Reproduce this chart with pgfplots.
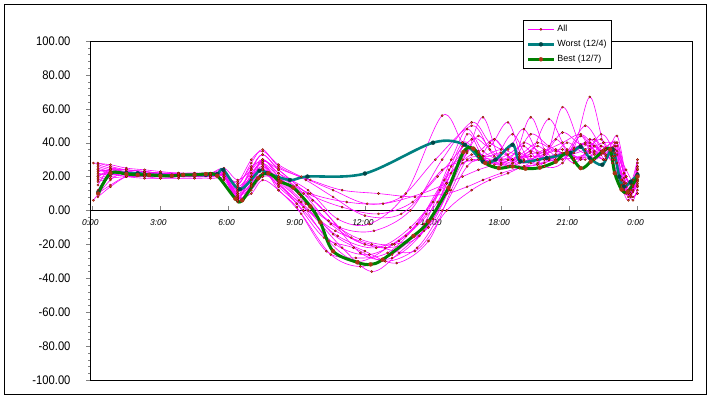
\documentclass[border=0pt]{standalone}
\usepackage{fontspec}
\setmainfont{Liberation Sans}
\newfontfamily\narrowfont[FakeStretch=0.9]{Liberation Sans}
\usepackage{pgfplots}
\pgfplotsset{compat=1.18}
\definecolor{mag}{RGB}{255,0,255}
\definecolor{magmark}{RGB}{225,85,40}
\definecolor{magmarkd}{RGB}{120,0,0}
\definecolor{worst}{RGB}{0,128,128}
\definecolor{worstm}{RGB}{0,70,70}
\definecolor{best}{RGB}{0,128,0}
\definecolor{bestm}{RGB}{170,50,20}
\pgfplotsset{
  allst/.style={color=mag, line width=0.6bp, smooth, tension=0.55, mark=*, mark size=1.1bp,
     mark options={fill=magmark, draw=magmarkd, line width=0.3bp}},
}
\begin{document}
\begin{tikzpicture}
\useasboundingbox (0,0) rectangle (711bp,398bp);
\draw[line width=0.8bp] (4bp,4bp) rectangle (706bp,394bp);
% zero axis with time labels
\begin{axis}[at={(90bp,18bp)}, anchor=south west, scale only axis,
  width=602bp, height=339bp, xmin=-0.1, xmax=26.4, ymin=-100, ymax=100,
  axis x line*=middle, axis y line=none,
  xtick={0,3,...,24}, xticklabels={0:00,3:00,6:00,9:00,12:00,15:00,18:00,21:00,0:00},
  tick align=inside, major tick length=4bp,
  x axis line style={line width=0.8bp},
  xticklabel style={font=\fontsize{8.5}{10}\selectfont\itshape, yshift=-6bp, xshift=-2bp},
  ]
\end{axis}
\begin{axis}[at={(90bp,18bp)}, anchor=south west, scale only axis,
  width=602bp, height=339bp, xmin=-0.1, xmax=26.4, ymin=-100, ymax=100,
  xtick=\empty, ytick={-100,-80,...,100}, minor y tick num=4, ytick pos=left,
  tick align=outside, major tick length=4bp, minor tick length=2bp,
  axis line style={line width=0.8bp},
  yticklabel style={font=\narrowfont\fontsize{12.5}{14}\selectfont, xshift=-12bp,
     /pgf/number format/.cd, fixed, fixed zerofill, precision=2, assume math mode=true},
  legend style={at={(0.7193,1.062)}, anchor=north west, draw=black, line width=0.8bp,
     font=\fontsize{9}{10}\selectfont, inner xsep=3bp, inner ysep=3bp,
     row sep=3bp, cells={anchor=west}},
  legend image code/.code={\draw[mark repeat=2,mark phase=2,#1] plot coordinates {(0bp,0bp)(13bp,0bp)(26bp,0bp)};},
  ]
% S1
\addplot[allst] coordinates {(0.25,27)(0.8,25)(1.5,24)(2.3,23)(3.0,22)(3.8,21)(4.5,21)(5.2,22)(5.8,21)(6.4,8)(7.0,20)(7.5,30)(8.2,22)
 (9.3,10)(10.5,-8)(12,-20)(13.5,-18)(15,5)
 (16.5,35)(17.2,30)(18.0,28)(18.8,32)(19.6,30)(20.4,33)(21.2,36)(21.9,40)(22.5,34)(23.0,30)(23.4,12)(23.7,10)(24.0,22)};
\addlegendentry{All}
% S2
\addplot[allst,forget plot] coordinates {(0.25,20)(0.8,23)(1.5,22)(2.3,22)(3.0,21)(3.8,20)(4.5,20)(5.2,21)(5.8,23)(6.4,12)(7.0,25)(7.5,33)(8.2,24)
 (9.0,15)(10.2,0)(11.8,-25)(13.2,-28)(14.6,-12)(15.6,16)
 (16.3,38)(17.0,34)(17.7,30)(18.5,45)(19.3,28)(20.1,30)(20.9,35)(21.7,50)(22.4,38)(22.9,35)(23.3,18)(23.6,8)(24.0,15)};
% S3
\addplot[allst,forget plot] coordinates {(0.05,6)(0.8,18)(1.5,23)(2.3,21)(3.0,20)(3.8,21)(4.5,20)(5.2,20)(5.8,20)(6.4,5)(7.0,15)(7.5,22)(8.2,15)
 (9.5,0)(11,-22)(12.3,-36)(13.5,-25)(15,-5)(15.8,22)
 (16.7,30)(17.5,28)(18.3,26)(19.0,29)(19.9,33)(20.7,36)(21.5,30)(22.1,38)(22.6,30)(23.1,40)(23.5,20)(23.8,14)(24.0,28)};
% S4
\addplot[allst,forget plot] coordinates {(0.25,24)(0.8,22)(1.5,20)(2.3,19)(3.0,19)(3.8,19)(4.5,19)(5.2,19)(5.8,18)(6.4,7)(7.0,12)(7.5,20)(8.2,18)
 (9.2,5)(10.8,-15)(12.5,-22)(14,-10)(15.3,12)
 (16.3,40)(17.0,32)(17.7,30)(18.5,28)(19.3,35)(20.1,30)(20.9,40)(21.7,34)(22.4,45)(22.9,36)(23.3,15)(23.6,6)(24.0,18)};
% S5
\addplot[allst,forget plot] coordinates {(0.25,15)(0.8,25)(1.5,22)(2.3,21)(3.0,20)(3.8,20)(4.5,20)(5.2,21)(5.8,22)(6.4,15)(7.0,28)(7.5,36)(8.2,26)
 (9.4,18)(10.6,8)(12,-3)(13.6,-2)(15.2,20)
 (16.7,42)(17.5,38)(18.3,52)(19.0,30)(19.9,35)(20.7,40)(21.5,45)(22.1,38)(22.6,32)(23.1,28)(23.5,10)(23.8,12)(24.0,26)};
% S6
\addplot[allst,forget plot] coordinates {(0.05,28)(0.8,27)(1.5,25)(2.3,24)(3.0,23)(3.8,22)(4.5,22)(5.2,22)(5.8,20)(6.4,6)(7.0,22)(7.5,27)(8.2,17)
 (9.1,6)(10.4,-18)(11.7,-30)(13.2,-20)(14.7,-2)(15.8,30)
 (16.5,48)(17.2,35)(18.0,30)(18.8,34)(19.6,28)(20.4,42)(21.2,30)(21.9,36)(22.5,40)(23.0,38)(23.4,22)(23.7,16)(24.0,30)};
% S7
\addplot[allst,forget plot] coordinates {(0.25,10)(0.8,15)(1.5,20)(2.3,20)(3.0,19)(3.8,20)(4.5,21)(5.2,20)(5.8,21)(6.4,10)(7.0,18)(7.5,24)(8.2,20)
 (9.6,10)(11.2,5)(12.8,4)(14.5,10)(15.6,16)
 (16.3,20)(17.0,24)(17.7,27)(18.5,30)(19.3,32)(20.1,31)(20.9,35)(21.7,39)(22.4,33)(22.9,37)(23.3,18)(23.6,10)(24.0,20)};
% S8
\addplot[allst,forget plot] coordinates {(0.25,22)(0.8,21)(1.5,22)(2.3,22)(3.0,22)(3.8,21)(4.5,21)(5.2,21)(5.8,20)(6.4,9)(7.0,14)(7.5,25)(8.2,12)
 (9.0,2)(10.3,-24)(11.6,-28)(13,-25)(14.3,-8)(15.5,18)
 (16.7,33)(17.5,29)(18.3,33)(19.0,38)(19.9,26)(20.7,28)(21.5,44)(22.1,30)(22.6,37)(23.1,40)(23.5,16)(23.8,8)(24.0,12)};
% S9
\addplot[allst,forget plot] coordinates {(0.25,26)(0.8,24)(1.5,23)(2.3,22)(3.0,22)(3.8,22)(4.5,22)(5.2,22)(5.8,25)(6.4,18)(7.0,24)(7.5,30)(8.2,22)
 (9.5,12)(10.8,-5)(12.2,-8)(13.8,10)(15.4,56)
 (16.3,40)(17.0,35)(17.7,42)(18.5,30)(19.3,45)(20.1,38)(20.9,33)(21.7,36)(22.4,42)(22.9,30)(23.3,14)(23.6,12)(24.0,24)};
% S10
\addplot[allst,forget plot] coordinates {(0.25,18)(0.8,20)(1.5,21)(2.3,21)(3.0,21)(3.8,21)(4.5,21)(5.2,20)(5.8,19)(6.4,12)(7.0,20)(7.5,26)(8.2,16)
 (9.3,0)(10.7,-20)(12.2,-26)(13.8,-15)(15.2,5)(15.8,26)
 (16.5,34)(17.2,55)(18.0,28)(18.8,30)(19.6,38)(20.4,30)(21.2,34)(21.9,42)(22.5,34)(23.0,36)(23.4,17)(23.7,9)(24.0,16)};
% S11
\addplot[allst,forget plot] coordinates {(0.25,23)(0.8,24)(1.5,24)(2.3,23)(3.0,22)(3.8,22)(4.5,21)(5.2,21)(5.8,22)(6.4,6)(7.0,16)(7.5,30)(8.2,20)
 (9.4,4)(10.9,-10)(12.4,-12)(14,0)(15.4,30)
 (16.7,52)(17.5,40)(18.3,36)(19.0,48)(19.9,30)(20.7,61)(21.5,38)(22.1,35)(22.6,36)(23.1,33)(23.5,20)(23.8,15)(24.0,25)};
% S12
\addplot[allst,forget plot] coordinates {(0.25,12)(0.8,22)(1.5,21)(2.3,21)(3.0,21)(3.8,20)(4.5,21)(5.2,21)(5.8,21)(6.4,14)(7.0,22)(7.5,28)(8.2,20)
 (9.2,8)(10.6,-14)(12,-24)(13.4,-31)(14.8,-18)(15.8,12)
 (16.5,30)(17.2,32)(18.0,36)(18.8,33)(19.6,40)(20.4,35)(21.2,37)(21.9,67)(22.5,40)(23.0,34)(23.4,19)(23.7,12)(24.0,22)};
% S13
\addplot[allst,forget plot] coordinates {(0.25,25)(0.8,23)(1.5,22)(2.3,22)(3.0,21)(3.8,21)(4.5,21)(5.2,21)(5.8,20)(6.4,8)(7.0,10)(7.5,18)(8.2,12)
 (9.2,-2)(10.5,-26)(11.8,-33)(13.2,-26)(14.6,-8)(15.7,24)
 (16.7,37)(17.5,28)(18.3,30)(19.0,26)(19.9,36)(20.7,30)(21.5,44)(22.1,34)(22.6,30)(23.1,38)(23.5,14)(23.8,6)(24.0,14)};
% S14
\addplot[allst,forget plot] coordinates {(0.25,20)(0.8,24)(1.5,23)(2.3,22)(3.0,21)(3.8,21)(4.5,20)(5.2,20)(5.8,21)(6.4,11)(7.0,24)(7.5,33)(8.2,25)
 (9.6,18)(11,12)(12.6,10)(14.2,8)(15.6,10)
 (16.5,14)(17.2,18)(18.0,22)(18.8,25)(19.6,27)(20.4,30)(21.2,31)(21.9,34)(22.5,36)(23.0,40)(23.4,22)(23.7,16)(24.0,24)};
% S15
\addplot[allst,forget plot] coordinates {(0.25,17)(0.8,19)(1.5,20)(2.3,20)(3.0,20)(3.8,21)(4.5,20)(5.2,21)(5.8,22)(6.4,16)(7.0,26)(7.5,28)(8.2,18)
 (9.1,10)(10.4,-6)(11.8,-17)(13.3,-20)(14.8,-10)(15.7,12)
 (16.3,28)(17.0,30)(17.7,42)(18.5,30)(19.3,34)(20.1,54)(20.9,36)(21.7,40)(22.4,35)(22.9,28)(23.3,12)(23.6,10)(24.0,18)};
% S16
\addplot[allst,forget plot] coordinates {(0.25,28)(0.8,26)(1.5,24)(2.3,23)(3.0,22)(3.8,22)(4.5,21)(5.2,21)(5.8,20)(6.4,10)(7.0,15)(7.5,22)(8.2,16)
 (9.3,2)(10.7,-12)(12.3,-20)(14.2,-24)(15.6,0)
 (16.7,12)(17.5,18)(18.3,22)(19.0,26)(19.9,28)(20.7,34)(21.5,31)(22.1,33)(22.6,36)(23.1,35)(23.5,24)(23.8,18)(24.0,30)};
% S17
\addplot[allst,forget plot] coordinates {(0.25,8)(0.8,14)(1.5,20)(2.3,22)(3.0,22)(3.8,21)(4.5,21)(5.2,21)(5.8,22)(6.4,13)(7.0,20)(7.5,26)(8.2,19)
 (9.7,6)(11.4,-16)(12.9,-22)(14.4,-15)(15.7,12)
 (16.5,45)(17.2,32)(18.0,34)(18.8,28)(19.6,30)(20.4,36)(21.2,28)(21.9,35)(22.5,30)(23.0,38)(23.4,15)(23.7,8)(24.0,10)};
% S18
\addplot[allst,forget plot] coordinates {(0.25,24)(0.8,23)(1.5,22)(2.3,21)(3.0,21)(3.8,21)(4.5,21)(5.2,21)(5.8,20)(6.4,7)(7.0,20)(7.5,29)(8.2,24)
 (9.5,10)(11,2)(12.6,-2)(14.1,5)(15.4,24)
 (16.3,30)(17.0,44)(17.7,32)(18.5,28)(19.3,55)(20.1,30)(20.9,34)(21.7,30)(22.4,38)(22.9,32)(23.3,18)(23.6,12)(24.0,20)};
% S19
\addplot[allst,forget plot] coordinates {(0.25,21)(0.8,22)(1.5,22)(2.3,21)(3.0,21)(3.8,20)(4.5,20)(5.2,20)(5.8,21)(6.4,17)(7.0,30)(7.5,35)(8.2,27)
 (9.2,20)(10.6,12)(12.1,4)(13.6,8)(15.1,30)
 (16.7,50)(17.5,36)(18.3,30)(19.0,40)(19.9,34)(20.7,46)(21.5,39)(22.1,42)(22.6,33)(23.1,44)(23.5,20)(23.8,11)(24.0,26)};
% S20
\addplot[allst,forget plot] coordinates {(0.25,19)(0.8,21)(1.5,22)(2.3,22)(3.0,22)(3.8,22)(4.5,22)(5.2,22)(5.8,23)(6.4,9)(7.0,16)(7.5,24)(8.2,14)
 (9.0,4)(10.2,-16)(11.5,-22)(12.9,-30)(14.3,-22)(15.4,0)
 (16.5,26)(17.2,30)(18.0,27)(18.8,31)(19.6,34)(20.4,30)(21.2,36)(21.9,38)(22.5,30)(23.0,32)(23.4,16)(23.7,10)(24.0,17)};
% Worst
\addplot[color=worst, line width=2.6bp, smooth, tension=0.55, mark=*, mark size=2bp,
  mark options={fill=worstm, draw=worstm, line width=0.3bp}] coordinates {
 (0.26,10.6)(0.8,21.8)(1.5,22)(2.0,22)(2.5,21)(3.0,21)(3.5,20.5)(4.0,21)(4.5,21)(5.0,21)(5.5,21.5)
 (5.77,24)(6.5,12.5)(7.36,23.5)(7.7,22)(8.7,18)(9.47,20)(12.0,21.8)(15.0,40)(16.4,38.8)
 (17.2,28.8)(17.75,30)(18.5,38.8)(18.85,29)(20.0,31)(21.05,34)(21.5,37.6)(21.9,31)(22.45,27)
 (22.9,36)(23.2,20)(23.4,14)(23.7,17)(24.0,21)};
\addlegendentry{Worst (12/4)}
% Best
\addplot[color=best, line width=3bp, smooth, tension=0.55, mark=*, mark size=2bp,
  mark options={fill=bestm, draw=bestm, line width=0.3bp}] coordinates {
 (0.26,10)(0.8,22)(1.5,21.5)(2.0,21)(2.5,21)(3.0,20.5)(3.5,20.5)(4.0,21)(4.5,21)(5.0,21.5)(5.5,20.5)
 (6.3,7)(6.6,6)(7.3,19)(7.75,22)(8.28,17)(8.85,13.5)(9.6,2.4)(10.04,-7)(10.6,-24)(11.67,-30.6)
 (12.25,-31.8)(12.78,-29)(14.14,-15)(14.8,-6.5)(15.68,13.5)(16.34,34.5)(16.78,36.5)(17.3,28)
 (17.9,25)(18.5,26)(19.07,24.7)(19.7,25.3)(20.4,28.8)(20.9,34)(21.5,25)(21.94,28.8)(22.47,34.7)
 (22.8,36)(23.0,22)(23.3,12.4)(23.57,11)(24.0,20)};
\addlegendentry{Best (12/7)}
\end{axis}
\end{tikzpicture}
\end{document}
